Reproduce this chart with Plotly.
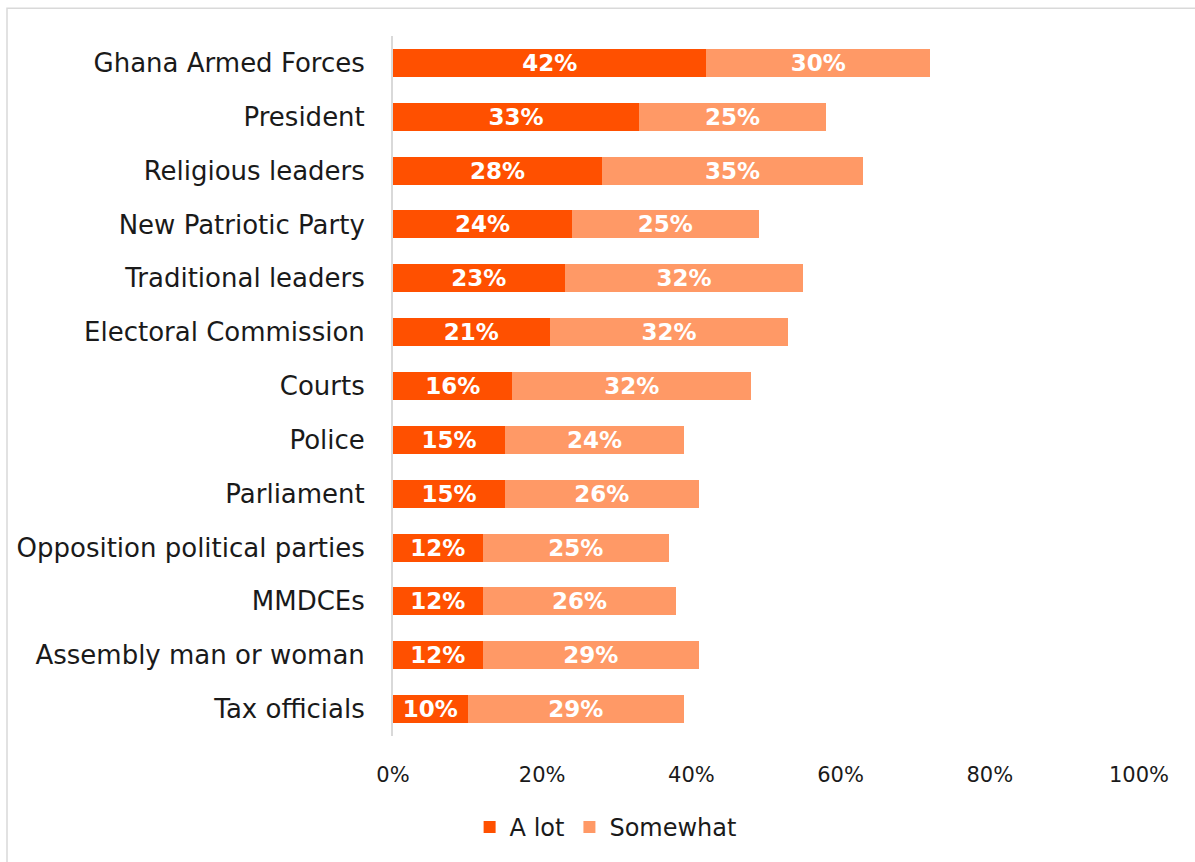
import plotly.graph_objects as go

categories = [
    "Ghana Armed Forces", "President", "Religious leaders", "New Patriotic Party",
    "Traditional leaders", "Electoral Commission", "Courts", "Police", "Parliament",
    "Opposition political parties", "MMDCEs", "Assembly man or woman", "Tax officials",
]
a_lot = [42, 33, 28, 24, 23, 21, 16, 15, 15, 12, 12, 12, 10]
somewhat = [30, 25, 35, 25, 32, 32, 32, 24, 26, 25, 26, 29, 29]
tick_vals = [0, 0.2, 0.4, 0.6, 0.8, 1.0]
tick_text = ["0%", "20%", "40%", "60%", "80%", "100%"]

FONT = "DejaVu Sans"
C_ALOT = "#FF5000"
C_SOME = "#FF9966"

fig = go.Figure()
for name, vals, col in [("A lot", a_lot, C_ALOT), ("Somewhat", somewhat, C_SOME)]:
    fig.add_trace(go.Bar(
        y=categories, x=[v / 100 for v in vals], name=name, orientation="h",
        marker=dict(color=col, line=dict(width=0)), width=0.52,
        text=[f"{v}%" for v in vals], textposition="inside",
        insidetextanchor="middle", constraintext="none",
        textfont=dict(family=FONT, size=23, color="white", weight="bold"),
        hoverinfo="skip",
    ))

W, H = 1195, 862
L, R, T, B = 393, 56, 36, 122
pw, ph = W - L - R, H - T - B

fig.update_layout(
    width=W, height=H,
    barmode="stack",
    paper_bgcolor="white", plot_bgcolor="white",
    margin=dict(l=L, r=R, t=T, b=B),
    font=dict(family=FONT, color="#1a1a1a"),
    showlegend=True,
    legend=dict(orientation="h", x=0.285, xanchor="center", y=-92 / ph, yanchor="middle",
                font=dict(family=FONT, size=24, color="#1a1a1a"),
                itemwidth=30, traceorder="normal", itemclick=False),
    xaxis=dict(range=[0, 1], tickvals=tick_vals, ticktext=tick_text,
               showgrid=False, zeroline=False, showline=False,
               ticks="outside", ticklen=20, tickcolor="rgba(0,0,0,0)",
               tickfont=dict(family=FONT, size=21, color="#1a1a1a"), fixedrange=True),
    yaxis=dict(autorange="reversed", showgrid=False, zeroline=False,
               showline=True, linecolor="#d9d9d9", linewidth=2,
               ticks="outside", ticklen=21, tickcolor="rgba(0,0,0,0)",
               tickfont=dict(family=FONT, size=26, color="#1a1a1a"), fixedrange=True),
    shapes=[dict(type="rect", xref="paper", yref="paper",
                 x0=(7 - L) / pw, x1=(W + 10 - L) / pw,
                 y0=-(B + 10) / ph, y1=1 + (T - 8) / ph,
                 line=dict(color="#d9d9d9", width=1.5), fillcolor="rgba(0,0,0,0)",
                 layer="below")],
)

fig.write_html("out.html", config={"displayModeBar": False},
               post_script="document.body.style.margin='0';")
